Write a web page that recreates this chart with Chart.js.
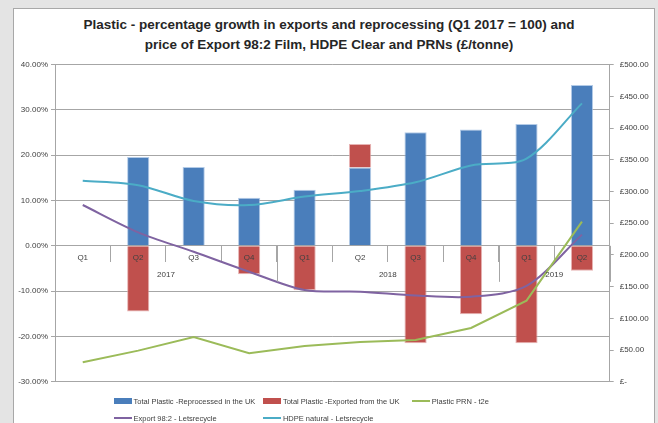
<!DOCTYPE html>
<html><head><meta charset="utf-8">
<script src="https://cdn.jsdelivr.net/npm/chart.js@4/dist/chart.umd.min.js"></script>
<style>
html,body{margin:0;padding:0;background:#e4e4e4;width:658px;height:423px;overflow:hidden;font-family:"Liberation Sans",Arial,sans-serif;}
#panel{position:absolute;left:13px;top:8px;width:640px;height:420px;background:#fff;border:1px solid #a8a8a8;border-bottom:none;}
#title{position:absolute;left:0;width:658px;top:15px;text-align:center;font-weight:bold;font-size:13.5px;line-height:20px;color:#262626;font-family:"Liberation Sans Narrow","Liberation Sans",sans-serif;}
#wrap{position:absolute;left:0;top:0;width:658px;height:423px;}
#legend{position:absolute;left:0;top:392px;width:658px;height:30px;font-size:7.5px;color:#404040;}
.li{position:absolute;display:flex;align-items:center;white-space:nowrap;height:10px;}
.sw{display:inline-block;margin-right:2px;}
</style></head>
<body>
<div id="panel"></div>
<div id="title">Plastic - percentage growth in exports and reprocessing (Q1 2017 = 100) and<br>price of Export 98:2 Film, HDPE Clear and PRNs (£/tonne)</div>
<div id="wrap"><canvas id="c" width="658" height="423"></canvas></div>
<div id="legend"></div>
<script>
const quarters = ['Q1','Q2','Q3','Q4','Q1','Q2','Q3','Q4','Q1','Q2'];
const years = ['2017','2017','2017','2017','2018','2018','2018','2018','2019','2019'];
const reprocessed = [0, 19.6, 17.4, 10.6, 12.4, 17.3, 25.1, 25.7, 26.9, 35.5];
const exported = [0, -14.5, 0, -6.3, -9.8, 5.2, -21.5, -15.1, -21.5, -5.5];
const prnT2e = [30.6, 49, 70.5, 44.8, 56.3, 62.6, 65.8, 84.7, 127.8, 252.4];
const export982 = [278.7, 235.6, 205, 173.5, 144.6, 142, 136, 134, 151, 232];
const hdpeNatural = [317, 310, 285, 278.7, 292, 300.8, 314.5, 341, 352, 439];
const seriesNames = ['Total Plastic -Reprocessed in the UK','Total Plastic -Exported from the UK','Plastic PRN - t2e','Export 98:2 - Letsrecycle','HDPE natural - Letsrecycle'];
const colors = ['#4a7ebb','#c0504d','#9bbb59','#7f63a1','#4bacc6'];

const FONT = {family:'"Liberation Sans", Arial, sans-serif', size:8};
const GRID = '#a6a6a6';

const yearPlugin = {
  id:'years',
  afterDraw(chart){
    const x = chart.scales.x, y = chart.scales.y, ctx = chart.ctx;
    const axisY = y.getPixelForValue(0);
    const half = (x.getPixelForValue(1) - x.getPixelForValue(0))/2;
    ctx.save();
    ctx.strokeStyle = GRID; ctx.lineWidth = 1;
    ctx.fillStyle = '#404040';
    ctx.font = '8px "Liberation Sans", Arial, sans-serif';
    ctx.textAlign = 'center'; ctx.textBaseline = 'middle';
    let start = 0;
    const drawLine = (px)=>{ctx.beginPath();ctx.moveTo(Math.round(px)+0.5, axisY);ctx.lineTo(Math.round(px)+0.5, axisY+36);ctx.stroke();};
    drawLine(x.getPixelForValue(0)-half);
    for (let i=1;i<=years.length;i++){
      if (i===years.length || years[i]!==years[start]){
        const l = x.getPixelForValue(start)-half, r = x.getPixelForValue(i-1)+half;
        drawLine(r);
        ctx.fillText(years[start], (l+r)/2, axisY+29);
        start = i;
      }
    }
    ctx.restore();
  }
};

new Chart(document.getElementById('c'), {
  data:{
    labels: quarters,
    datasets:[
      {type:'line', label:seriesNames[2], data:prnT2e, yAxisID:'y1', borderColor:colors[2], backgroundColor:colors[2], borderWidth:2, pointRadius:0, tension:0, order:0},
      {type:'line', label:seriesNames[3], data:export982, yAxisID:'y1', borderColor:colors[3], backgroundColor:colors[3], borderWidth:2, pointRadius:0, tension:0.3, order:0},
      {type:'line', label:seriesNames[4], data:hdpeNatural, yAxisID:'y1', borderColor:colors[4], backgroundColor:colors[4], borderWidth:2, pointRadius:0, tension:0.3, order:0},
      {type:'bar', label:seriesNames[0], data:reprocessed, yAxisID:'y', backgroundColor:colors[0], borderColor:'rgba(160,190,225,0.8)', borderWidth:1, categoryPercentage:1, barPercentage:0.4, order:1},
      {type:'bar', label:seriesNames[1], data:exported, yAxisID:'y', backgroundColor:colors[1], borderColor:'rgba(225,160,160,0.8)', borderWidth:1, categoryPercentage:1, barPercentage:0.4, order:1}
    ]
  },
  options:{
    responsive:false, animation:false,
    layout:{padding:{left:0,right:0,top:64.7,bottom:41.3}},
    plugins:{legend:{display:false}, title:{display:false}, tooltip:{enabled:false}},
    scales:{
      x:{stacked:true, position:{y:0}, offset:true,
         grid:{drawOnChartArea:false, drawTicks:true, tickLength:16, color:GRID, offset:true},
         border:{display:true, color:GRID},
         ticks:{z:1, font:FONT, color:'#404040', padding:-9, maxRotation:0, autoSkip:false}},
      y:{stacked:true, position:'left', min:-30, max:40,
         afterFit(s){s.width=55;},
         ticks:{stepSize:10, font:FONT, color:'#404040', padding:3, callback:v=>v.toFixed(2)+'%'},
         grid:{color:GRID, tickLength:4}, border:{display:true, color:GRID}},
      y1:{position:'right', min:0, max:500,
         afterFit(s){s.width=48.3;},
         ticks:{stepSize:50, font:FONT, color:'#404040', padding:6, callback:v=>v===0?'£-':'£'+v.toFixed(2)},
         grid:{drawOnChartArea:false, color:GRID, tickLength:4}, border:{display:true, color:GRID}}
    }
  },
  plugins:[yearPlugin]
});

// legend
const legendPos = [[113.6,396],[262.9,396],[411.8,396],[113.6,413],[262.9,413]];
const lg = document.getElementById('legend');
seriesNames.forEach((n,i)=>{
  const d = document.createElement('div'); d.className='li';
  d.style.left = legendPos[i][0]+'px'; d.style.top = (legendPos[i][1]-392)+'px';
  const s = document.createElement('span'); s.className='sw';
  s.style.width='18px'; s.style.height = i<2 ? '6px':'2px'; s.style.background = colors[i];
  d.appendChild(s); d.appendChild(document.createTextNode(n)); lg.appendChild(d);
});
</script>
</body></html>
